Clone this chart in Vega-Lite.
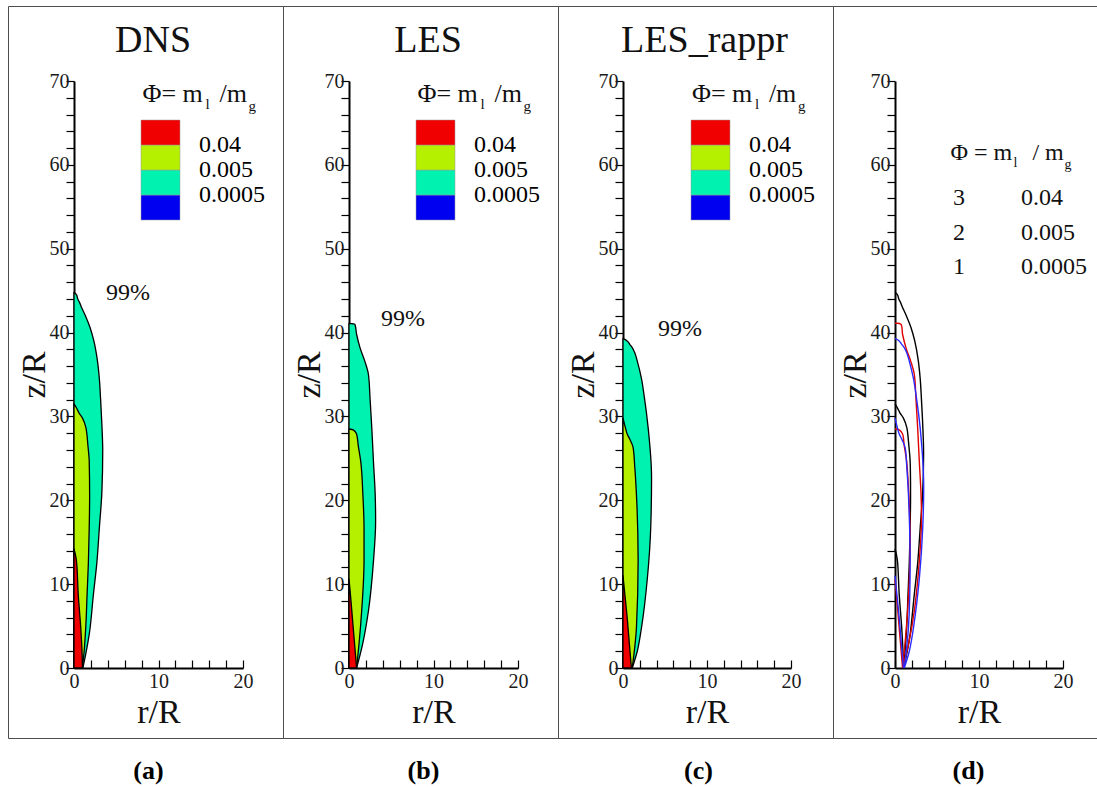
{
  "$schema": "https://vega.github.io/schema/vega-lite/v6.json",
  "background": "white",
  "padding": {"left": 7, "top": 5, "right": 0, "bottom": 0},
  "autosize": {"type": "pad"},
  "spacing": 0,
  "bounds": "flush",
  "datasets": {
    "contours": [
      {"src": "DNS", "level": 1, "r": 1.05, "z": 0},
      {"src": "DNS", "level": 1, "r": 1.4, "z": 1.7},
      {"src": "DNS", "level": 1, "r": 1.8, "z": 4},
      {"src": "DNS", "level": 1, "r": 2.3, "z": 8.8},
      {"src": "DNS", "level": 1, "r": 2.7, "z": 12.5},
      {"src": "DNS", "level": 1, "r": 3.0, "z": 16.7},
      {"src": "DNS", "level": 1, "r": 3.3, "z": 21},
      {"src": "DNS", "level": 1, "r": 3.4, "z": 25.9},
      {"src": "DNS", "level": 1, "r": 3.3, "z": 29},
      {"src": "DNS", "level": 1, "r": 3.15, "z": 32},
      {"src": "DNS", "level": 1, "r": 3.0, "z": 34.5},
      {"src": "DNS", "level": 1, "r": 2.75, "z": 36.8},
      {"src": "DNS", "level": 1, "r": 2.35, "z": 39},
      {"src": "DNS", "level": 1, "r": 1.9, "z": 40.6},
      {"src": "DNS", "level": 1, "r": 1.35, "z": 42},
      {"src": "DNS", "level": 1, "r": 0.9, "z": 43},
      {"src": "DNS", "level": 1, "r": 0.65, "z": 43.6},
      {"src": "DNS", "level": 1, "r": 0.45, "z": 44.0},
      {"src": "DNS", "level": 1, "r": 0.3, "z": 44.5},
      {"src": "DNS", "level": 1, "r": 0, "z": 44.8},
      {"src": "DNS", "level": 2, "r": 1.0, "z": 0},
      {"src": "DNS", "level": 2, "r": 1.2, "z": 2},
      {"src": "DNS", "level": 2, "r": 1.4, "z": 5},
      {"src": "DNS", "level": 2, "r": 1.55, "z": 8.8},
      {"src": "DNS", "level": 2, "r": 1.7, "z": 12.5},
      {"src": "DNS", "level": 2, "r": 1.8, "z": 16.7},
      {"src": "DNS", "level": 2, "r": 1.85, "z": 20.5},
      {"src": "DNS", "level": 2, "r": 1.8, "z": 24.7},
      {"src": "DNS", "level": 2, "r": 1.65, "z": 26.5},
      {"src": "DNS", "level": 2, "r": 1.4, "z": 28.7},
      {"src": "DNS", "level": 2, "r": 1.0, "z": 29.8},
      {"src": "DNS", "level": 2, "r": 0.6, "z": 30.4},
      {"src": "DNS", "level": 2, "r": 0.3, "z": 31},
      {"src": "DNS", "level": 2, "r": 0, "z": 31.5},
      {"src": "DNS", "level": 3, "r": 1.0, "z": 0},
      {"src": "DNS", "level": 3, "r": 0.95, "z": 2},
      {"src": "DNS", "level": 3, "r": 0.8, "z": 4.8},
      {"src": "DNS", "level": 3, "r": 0.5, "z": 8.8},
      {"src": "DNS", "level": 3, "r": 0.3, "z": 12.7},
      {"src": "DNS", "level": 3, "r": 0.15, "z": 13.6},
      {"src": "DNS", "level": 3, "r": 0, "z": 14.2},
      {"src": "LES", "level": 1, "r": 0.9, "z": 0},
      {"src": "LES", "level": 1, "r": 1.6, "z": 2.8},
      {"src": "LES", "level": 1, "r": 2.3, "z": 6.8},
      {"src": "LES", "level": 1, "r": 2.9, "z": 12.8},
      {"src": "LES", "level": 1, "r": 3.15, "z": 17.5},
      {"src": "LES", "level": 1, "r": 3.1, "z": 20.7},
      {"src": "LES", "level": 1, "r": 2.9, "z": 24.5},
      {"src": "LES", "level": 1, "r": 2.7, "z": 28.6},
      {"src": "LES", "level": 1, "r": 2.5, "z": 32},
      {"src": "LES", "level": 1, "r": 2.3, "z": 35},
      {"src": "LES", "level": 1, "r": 1.9, "z": 36.5},
      {"src": "LES", "level": 1, "r": 1.3, "z": 38.2},
      {"src": "LES", "level": 1, "r": 0.9, "z": 39.8},
      {"src": "LES", "level": 1, "r": 0.7, "z": 41.0},
      {"src": "LES", "level": 1, "r": 0, "z": 41.1},
      {"src": "LES", "level": 2, "r": 0.9, "z": 0},
      {"src": "LES", "level": 2, "r": 1.18, "z": 2.8},
      {"src": "LES", "level": 2, "r": 1.5, "z": 6.8},
      {"src": "LES", "level": 2, "r": 1.78, "z": 12.8},
      {"src": "LES", "level": 2, "r": 1.78, "z": 16.7},
      {"src": "LES", "level": 2, "r": 1.65, "z": 20.5},
      {"src": "LES", "level": 2, "r": 1.38, "z": 24.7},
      {"src": "LES", "level": 2, "r": 1.1, "z": 26.5},
      {"src": "LES", "level": 2, "r": 0.9, "z": 27.9},
      {"src": "LES", "level": 2, "r": 0.5, "z": 28.4},
      {"src": "LES", "level": 2, "r": 0, "z": 28.5},
      {"src": "LES", "level": 3, "r": 0.9, "z": 0},
      {"src": "LES", "level": 3, "r": 0.65, "z": 3},
      {"src": "LES", "level": 3, "r": 0.4, "z": 6},
      {"src": "LES", "level": 3, "r": 0.15, "z": 9},
      {"src": "LES", "level": 3, "r": 0, "z": 10.6},
      {"src": "LES_rappr", "level": 1, "r": 1.1, "z": 0},
      {"src": "LES_rappr", "level": 1, "r": 1.7, "z": 2},
      {"src": "LES_rappr", "level": 1, "r": 2.2, "z": 4.8},
      {"src": "LES_rappr", "level": 1, "r": 2.9, "z": 10.7},
      {"src": "LES_rappr", "level": 1, "r": 3.3, "z": 16.7},
      {"src": "LES_rappr", "level": 1, "r": 3.4, "z": 22.7},
      {"src": "LES_rappr", "level": 1, "r": 3.0, "z": 28.6},
      {"src": "LES_rappr", "level": 1, "r": 2.5, "z": 32.6},
      {"src": "LES_rappr", "level": 1, "r": 2.2, "z": 34.5},
      {"src": "LES_rappr", "level": 1, "r": 1.7, "z": 36.6},
      {"src": "LES_rappr", "level": 1, "r": 1.4, "z": 37.6},
      {"src": "LES_rappr", "level": 1, "r": 1.1, "z": 38.2},
      {"src": "LES_rappr", "level": 1, "r": 0.8, "z": 38.6},
      {"src": "LES_rappr", "level": 1, "r": 0.5, "z": 39.0},
      {"src": "LES_rappr", "level": 1, "r": 0, "z": 39.3},
      {"src": "LES_rappr", "level": 2, "r": 1.1, "z": 0},
      {"src": "LES_rappr", "level": 2, "r": 1.6, "z": 4.8},
      {"src": "LES_rappr", "level": 2, "r": 1.8, "z": 12.8},
      {"src": "LES_rappr", "level": 2, "r": 1.6, "z": 20.7},
      {"src": "LES_rappr", "level": 2, "r": 1.4, "z": 24},
      {"src": "LES_rappr", "level": 2, "r": 1.2, "z": 26.3},
      {"src": "LES_rappr", "level": 2, "r": 0.8, "z": 27.3},
      {"src": "LES_rappr", "level": 2, "r": 0.5, "z": 27.9},
      {"src": "LES_rappr", "level": 2, "r": 0.3, "z": 28.6},
      {"src": "LES_rappr", "level": 2, "r": 0, "z": 29.8},
      {"src": "LES_rappr", "level": 3, "r": 1.0, "z": 0},
      {"src": "LES_rappr", "level": 3, "r": 0.75, "z": 3},
      {"src": "LES_rappr", "level": 3, "r": 0.5, "z": 6},
      {"src": "LES_rappr", "level": 3, "r": 0.2, "z": 9},
      {"src": "LES_rappr", "level": 3, "r": 0, "z": 11}
    ]
  },
  "hconcat": [
    {
      "width": 275, "height": 732,
      "title": {"text": "(a)", "orient": "bottom", "offset": 20, "dx": 3},
      "layer": [
        {
          "data": {"name": "contours"},
          "transform": [{"filter": "datum.src == 'DNS'"}],
          "mark": {"type": "area", "orient": "horizontal", "interpolate": "monotone", "stroke": "black", "strokeWidth": 1.3, "strokeJoin": "round"},
          "encoding": {
            "y": {"field": "z", "type": "quantitative", "scale": {"domain": [0, 70], "range": [662, 75], "nice": false, "zero": false},
              "axis": {"title": "z/R", "offset": -66, "tickCount": 100, "format": "d", "values": [0,2,4,6,8,10,12,14,16,18,20,22,24,26,28,30,32,34,36,38,40,42,44,46,48,50,52,54,56,58,60,62,64,66,68,70], "labelExpr": "datum.value % 10 === 0 ? datum.label : ''", "labelFontSize": {"condition": {"test": "datum.value % 10 !== 0", "value": 0}, "value": 20}, "labelOverlap": false, "labelFlush": false, "labelBound": false, "tickSize": 8, "tickWidth": 1.2, "domainWidth": 2, "labelPadding": -3, "titleFontSize": 34, "titlePadding": -2}},
            "x": {"field": "r", "type": "quantitative", "stack": null, "scale": {"domain": [0, 20], "range": [66, 235], "nice": false},
              "axis": {"title": "r/R", "offset": -70, "tickCount": 100, "format": "d", "values": [0,2,4,6,8,10,12,14,16,18,20], "labelExpr": "datum.value % 10 === 0 ? datum.label : ''", "labelFontSize": {"condition": {"test": "datum.value % 10 !== 0", "value": 0}, "value": 20}, "labelOverlap": false, "labelFlush": false, "labelBound": false, "tickSize": -8, "tickWidth": 1.2, "domainWidth": 2, "labelPadding": 11, "titleFontSize": 34, "titlePadding": 4}},
            "detail": {"field": "level"},
            "color": {"field": "level", "type": "quantitative", "scale": {"type": "threshold", "domain": [1, 2, 3], "range": ["#0000f0", "#00f2b0", "#b4f000", "#f00000"]},
              "legend": {"type": "gradient", "orient": "none", "legendX": 133, "legendY": 114, "title": null, "direction": "vertical", "gradientLength": 100, "gradientThickness": 39, "labelFontSize": 24, "labelOffset": 19, "labelFont": "Liberation Serif", "labelColor": "black", "labelOverlap": false, "labelExpr": "datum.value == 1 ? '0.0005' : datum.value == 2 ? '0.005' : datum.value == 3 ? '0.04' : ''", "gradientStrokeWidth": 0.5, "gradientStrokeColor": "#999", "padding": 0}}
          }
        },
        {"data": {"values": [{"label": "DNS"}]}, "mark": {"type": "text", "font": "Liberation Serif", "fontSize": 38, "align": "center", "baseline": "middle"}, "encoding": {"x": {"datum": 9.35}, "y": {"datum": 74.8}, "text": {"field": "label"}}},
        {"data": {"values": [{"label": "99%"}]}, "mark": {"type": "text", "font": "Liberation Serif", "fontSize": 24, "align": "center", "baseline": "middle"}, "encoding": {"x": {"datum": 6.4}, "y": {"datum": 44.7}, "text": {"field": "label"}}},
        {"data": {"values": [{"label": "Φ= m"}]}, "mark": {"type": "text", "font": "Liberation Serif", "fontSize": 26, "align": "left", "baseline": "middle"}, "encoding": {"x": {"datum": 8.1}, "y": {"datum": 68.4}, "text": {"field": "label"}}},
        {"data": {"values": [{"label": "l"}]}, "mark": {"type": "text", "font": "Liberation Serif", "fontSize": 15, "align": "left", "baseline": "middle", "dx": 63, "dy": 10}, "encoding": {"x": {"datum": 8.1}, "y": {"datum": 68.4}, "text": {"field": "label"}}},
        {"data": {"values": [{"label": "/m"}]}, "mark": {"type": "text", "font": "Liberation Serif", "fontSize": 26, "align": "left", "baseline": "middle", "dx": 77}, "encoding": {"x": {"datum": 8.1}, "y": {"datum": 68.4}, "text": {"field": "label"}}},
        {"data": {"values": [{"label": "g"}]}, "mark": {"type": "text", "font": "Liberation Serif", "fontSize": 15, "align": "left", "baseline": "middle", "dx": 106, "dy": 12}, "encoding": {"x": {"datum": 8.1}, "y": {"datum": 68.4}, "text": {"field": "label"}}}
      ]
    },
    {
      "width": 275, "height": 732,
      "title": {"text": "(b)", "orient": "bottom", "offset": 20, "dx": 3},
      "layer": [
        {
          "data": {"name": "contours"},
          "transform": [{"filter": "datum.src == 'LES'"}],
          "mark": {"type": "area", "orient": "horizontal", "interpolate": "monotone", "stroke": "black", "strokeWidth": 1.3, "strokeJoin": "round"},
          "encoding": {
            "y": {"field": "z", "type": "quantitative", "scale": {"domain": [0, 70], "range": [662, 75], "nice": false, "zero": false},
              "axis": {"title": "z/R", "offset": -66, "tickCount": 100, "format": "d", "values": [0,2,4,6,8,10,12,14,16,18,20,22,24,26,28,30,32,34,36,38,40,42,44,46,48,50,52,54,56,58,60,62,64,66,68,70], "labelExpr": "datum.value % 10 === 0 ? datum.label : ''", "labelFontSize": {"condition": {"test": "datum.value % 10 !== 0", "value": 0}, "value": 20}, "labelOverlap": false, "labelFlush": false, "labelBound": false, "tickSize": 8, "tickWidth": 1.2, "domainWidth": 2, "labelPadding": -3, "titleFontSize": 34, "titlePadding": -2}},
            "x": {"field": "r", "type": "quantitative", "stack": null, "scale": {"domain": [0, 20], "range": [66, 235], "nice": false},
              "axis": {"title": "r/R", "offset": -70, "tickCount": 100, "format": "d", "values": [0,2,4,6,8,10,12,14,16,18,20], "labelExpr": "datum.value % 10 === 0 ? datum.label : ''", "labelFontSize": {"condition": {"test": "datum.value % 10 !== 0", "value": 0}, "value": 20}, "labelOverlap": false, "labelFlush": false, "labelBound": false, "tickSize": -8, "tickWidth": 1.2, "domainWidth": 2, "labelPadding": 11, "titleFontSize": 34, "titlePadding": 4}},
            "detail": {"field": "level"},
            "color": {"field": "level", "type": "quantitative", "scale": {"type": "threshold", "domain": [1, 2, 3], "range": ["#0000f0", "#00f2b0", "#b4f000", "#f00000"]},
              "legend": {"type": "gradient", "orient": "none", "legendX": 133, "legendY": 114, "title": null, "direction": "vertical", "gradientLength": 100, "gradientThickness": 39, "labelFontSize": 24, "labelOffset": 19, "labelFont": "Liberation Serif", "labelColor": "black", "labelOverlap": false, "labelExpr": "datum.value == 1 ? '0.0005' : datum.value == 2 ? '0.005' : datum.value == 3 ? '0.04' : ''", "gradientStrokeWidth": 0.5, "gradientStrokeColor": "#999", "padding": 0}}
          }
        },
        {"data": {"values": [{"label": "LES"}]}, "mark": {"type": "text", "font": "Liberation Serif", "fontSize": 38, "align": "center", "baseline": "middle"}, "encoding": {"x": {"datum": 9.35}, "y": {"datum": 74.8}, "text": {"field": "label"}}},
        {"data": {"values": [{"label": "99%"}]}, "mark": {"type": "text", "font": "Liberation Serif", "fontSize": 24, "align": "center", "baseline": "middle"}, "encoding": {"x": {"datum": 6.4}, "y": {"datum": 41.6}, "text": {"field": "label"}}},
        {"data": {"values": [{"label": "Φ= m"}]}, "mark": {"type": "text", "font": "Liberation Serif", "fontSize": 26, "align": "left", "baseline": "middle"}, "encoding": {"x": {"datum": 8.1}, "y": {"datum": 68.4}, "text": {"field": "label"}}},
        {"data": {"values": [{"label": "l"}]}, "mark": {"type": "text", "font": "Liberation Serif", "fontSize": 15, "align": "left", "baseline": "middle", "dx": 63, "dy": 10}, "encoding": {"x": {"datum": 8.1}, "y": {"datum": 68.4}, "text": {"field": "label"}}},
        {"data": {"values": [{"label": "/m"}]}, "mark": {"type": "text", "font": "Liberation Serif", "fontSize": 26, "align": "left", "baseline": "middle", "dx": 77}, "encoding": {"x": {"datum": 8.1}, "y": {"datum": 68.4}, "text": {"field": "label"}}},
        {"data": {"values": [{"label": "g"}]}, "mark": {"type": "text", "font": "Liberation Serif", "fontSize": 15, "align": "left", "baseline": "middle", "dx": 106, "dy": 12}, "encoding": {"x": {"datum": 8.1}, "y": {"datum": 68.4}, "text": {"field": "label"}}}
      ]
    },
    {
      "width": 275, "height": 732,
      "title": {"text": "(c)", "orient": "bottom", "offset": 20, "dx": 3},
      "layer": [
        {
          "data": {"name": "contours"},
          "transform": [{"filter": "datum.src == 'LES_rappr'"}],
          "mark": {"type": "area", "orient": "horizontal", "interpolate": "monotone", "stroke": "black", "strokeWidth": 1.3, "strokeJoin": "round"},
          "encoding": {
            "y": {"field": "z", "type": "quantitative", "scale": {"domain": [0, 70], "range": [662, 75], "nice": false, "zero": false},
              "axis": {"title": "z/R", "offset": -65, "tickCount": 100, "format": "d", "values": [0,2,4,6,8,10,12,14,16,18,20,22,24,26,28,30,32,34,36,38,40,42,44,46,48,50,52,54,56,58,60,62,64,66,68,70], "labelExpr": "datum.value % 10 === 0 ? datum.label : ''", "labelFontSize": {"condition": {"test": "datum.value % 10 !== 0", "value": 0}, "value": 20}, "labelOverlap": false, "labelFlush": false, "labelBound": false, "tickSize": 8, "tickWidth": 1.2, "domainWidth": 2, "labelPadding": -3, "titleFontSize": 34, "titlePadding": -2}},
            "x": {"field": "r", "type": "quantitative", "stack": null, "scale": {"domain": [0, 20], "range": [65, 233], "nice": false},
              "axis": {"title": "r/R", "offset": -70, "tickCount": 100, "format": "d", "values": [0,2,4,6,8,10,12,14,16,18,20], "labelExpr": "datum.value % 10 === 0 ? datum.label : ''", "labelFontSize": {"condition": {"test": "datum.value % 10 !== 0", "value": 0}, "value": 20}, "labelOverlap": false, "labelFlush": false, "labelBound": false, "tickSize": -8, "tickWidth": 1.2, "domainWidth": 2, "labelPadding": 11, "titleFontSize": 34, "titlePadding": 4}},
            "detail": {"field": "level"},
            "color": {"field": "level", "type": "quantitative", "scale": {"type": "threshold", "domain": [1, 2, 3], "range": ["#0000f0", "#00f2b0", "#b4f000", "#f00000"]},
              "legend": {"type": "gradient", "orient": "none", "legendX": 133, "legendY": 114, "title": null, "direction": "vertical", "gradientLength": 100, "gradientThickness": 39, "labelFontSize": 24, "labelOffset": 19, "labelFont": "Liberation Serif", "labelColor": "black", "labelOverlap": false, "labelExpr": "datum.value == 1 ? '0.0005' : datum.value == 2 ? '0.005' : datum.value == 3 ? '0.04' : ''", "gradientStrokeWidth": 0.5, "gradientStrokeColor": "#999", "padding": 0}}
          }
        },
        {"data": {"values": [{"label": "LES_rappr"}]}, "mark": {"type": "text", "font": "Liberation Serif", "fontSize": 38, "align": "center", "baseline": "middle"}, "encoding": {"x": {"datum": 9.7}, "y": {"datum": 74.8}, "text": {"field": "label"}}},
        {"data": {"values": [{"label": "99%"}]}, "mark": {"type": "text", "font": "Liberation Serif", "fontSize": 24, "align": "center", "baseline": "middle"}, "encoding": {"x": {"datum": 6.8}, "y": {"datum": 40.4}, "text": {"field": "label"}}},
        {"data": {"values": [{"label": "Φ= m"}]}, "mark": {"type": "text", "font": "Liberation Serif", "fontSize": 26, "align": "left", "baseline": "middle"}, "encoding": {"x": {"datum": 8.2}, "y": {"datum": 68.4}, "text": {"field": "label"}}},
        {"data": {"values": [{"label": "l"}]}, "mark": {"type": "text", "font": "Liberation Serif", "fontSize": 15, "align": "left", "baseline": "middle", "dx": 63, "dy": 10}, "encoding": {"x": {"datum": 8.2}, "y": {"datum": 68.4}, "text": {"field": "label"}}},
        {"data": {"values": [{"label": "/m"}]}, "mark": {"type": "text", "font": "Liberation Serif", "fontSize": 26, "align": "left", "baseline": "middle", "dx": 77}, "encoding": {"x": {"datum": 8.2}, "y": {"datum": 68.4}, "text": {"field": "label"}}},
        {"data": {"values": [{"label": "g"}]}, "mark": {"type": "text", "font": "Liberation Serif", "fontSize": 15, "align": "left", "baseline": "middle", "dx": 106, "dy": 12}, "encoding": {"x": {"datum": 8.2}, "y": {"datum": 68.4}, "text": {"field": "label"}}}
      ]
    },
    {
      "width": 265, "height": 732,
      "title": {"text": "(d)", "orient": "bottom", "offset": 20, "dx": 3},
      "layer": [
        {
          "data": {"name": "contours"},
          "mark": {"type": "line", "interpolate": "catmull-rom", "strokeWidth": 1.4, "strokeJoin": "round"},
          "encoding": {
            "y": {"field": "z", "type": "quantitative", "scale": {"domain": [0, 70], "range": [662, 75], "nice": false, "zero": false},
              "axis": {"title": "z/R", "offset": -62, "tickCount": 100, "format": "d", "values": [0,2,4,6,8,10,12,14,16,18,20,22,24,26,28,30,32,34,36,38,40,42,44,46,48,50,52,54,56,58,60,62,64,66,68,70], "labelExpr": "datum.value % 10 === 0 ? datum.label : ''", "labelFontSize": {"condition": {"test": "datum.value % 10 !== 0", "value": 0}, "value": 20}, "labelOverlap": false, "labelFlush": false, "labelBound": false, "tickSize": 8, "tickWidth": 1.2, "domainWidth": 2, "labelPadding": -3, "titleFontSize": 34, "titlePadding": -2}},
            "x": {"field": "r", "type": "quantitative", "scale": {"domain": [0, 20], "range": [62, 230], "nice": false},
              "axis": {"title": "r/R", "offset": -70, "tickCount": 100, "format": "d", "values": [0,2,4,6,8,10,12,14,16,18,20], "labelExpr": "datum.value % 10 === 0 ? datum.label : ''", "labelFontSize": {"condition": {"test": "datum.value % 10 !== 0", "value": 0}, "value": 20}, "labelOverlap": false, "labelFlush": false, "labelBound": false, "tickSize": -8, "tickWidth": 1.2, "domainWidth": 2, "labelPadding": 11, "titleFontSize": 34, "titlePadding": 4}},
            "detail": {"field": "level"},
            "order": {"field": "z"},
            "stroke": {"field": "src", "type": "nominal", "scale": {"domain": ["DNS", "LES", "LES_rappr"], "range": ["#000000", "#e00000", "#2a2aff"]}, "legend": null}
          }
        },
        {"data": {"values": [{"label": "Φ = m"}]}, "mark": {"type": "text", "font": "Liberation Serif", "fontSize": 24, "align": "left", "baseline": "middle"}, "encoding": {"x": {"datum": 6.6}, "y": {"datum": 61.4}, "text": {"field": "label"}}},
        {"data": {"values": [{"label": "l"}]}, "mark": {"type": "text", "font": "Liberation Serif", "fontSize": 14, "align": "left", "baseline": "middle", "dx": 63, "dy": 10}, "encoding": {"x": {"datum": 6.6}, "y": {"datum": 61.4}, "text": {"field": "label"}}},
        {"data": {"values": [{"label": "/ m"}]}, "mark": {"type": "text", "font": "Liberation Serif", "fontSize": 24, "align": "left", "baseline": "middle", "dx": 82}, "encoding": {"x": {"datum": 6.6}, "y": {"datum": 61.4}, "text": {"field": "label"}}},
        {"data": {"values": [{"label": "g"}]}, "mark": {"type": "text", "font": "Liberation Serif", "fontSize": 14, "align": "left", "baseline": "middle", "dx": 114, "dy": 12}, "encoding": {"x": {"datum": 6.6}, "y": {"datum": 61.4}, "text": {"field": "label"}}},
        {"data": {"values": [{"k": "3", "v": "0.04"}]}, "mark": {"type": "text", "font": "Liberation Serif", "fontSize": 24, "align": "left", "baseline": "middle"}, "encoding": {"x": {"datum": 6.9}, "y": {"datum": 56.0}, "text": {"field": "k"}}},
        {"data": {"values": [{"k": "2", "v": "0.005"}]}, "mark": {"type": "text", "font": "Liberation Serif", "fontSize": 24, "align": "left", "baseline": "middle"}, "encoding": {"x": {"datum": 6.9}, "y": {"datum": 51.9}, "text": {"field": "k"}}},
        {"data": {"values": [{"k": "1", "v": "0.0005"}]}, "mark": {"type": "text", "font": "Liberation Serif", "fontSize": 24, "align": "left", "baseline": "middle"}, "encoding": {"x": {"datum": 6.9}, "y": {"datum": 47.8}, "text": {"field": "k"}}},
        {"data": {"values": [{"k": "3", "v": "0.04"}]}, "mark": {"type": "text", "font": "Liberation Serif", "fontSize": 24, "align": "left", "baseline": "middle"}, "encoding": {"x": {"datum": 15.0}, "y": {"datum": 56.0}, "text": {"field": "v"}}},
        {"data": {"values": [{"k": "2", "v": "0.005"}]}, "mark": {"type": "text", "font": "Liberation Serif", "fontSize": 24, "align": "left", "baseline": "middle"}, "encoding": {"x": {"datum": 15.0}, "y": {"datum": 51.9}, "text": {"field": "v"}}},
        {"data": {"values": [{"k": "1", "v": "0.0005"}]}, "mark": {"type": "text", "font": "Liberation Serif", "fontSize": 24, "align": "left", "baseline": "middle"}, "encoding": {"x": {"datum": 15.0}, "y": {"datum": 47.8}, "text": {"field": "v"}}}
      ]
    }
  ],
  "resolve": {"scale": {"color": "independent", "stroke": "independent", "x": "independent", "y": "independent"}, "legend": {"color": "independent"}},
  "config": {
    "view": {"stroke": "#4d4d4d", "strokeWidth": 1},
    "font": "Liberation Serif",
    "axis": {"domainColor": "black", "tickColor": "black", "labelColor": "#1a1a1a", "titleColor": "#111111", "grid": false, "titleFontWeight": "normal", "labelFont": "Liberation Serif", "titleFont": "Liberation Serif"},
    "title": {"font": "Liberation Serif", "fontSize": 26, "fontWeight": "bold", "color": "black"},
    "text": {"font": "Liberation Serif", "color": "#111111"}
  }
}
